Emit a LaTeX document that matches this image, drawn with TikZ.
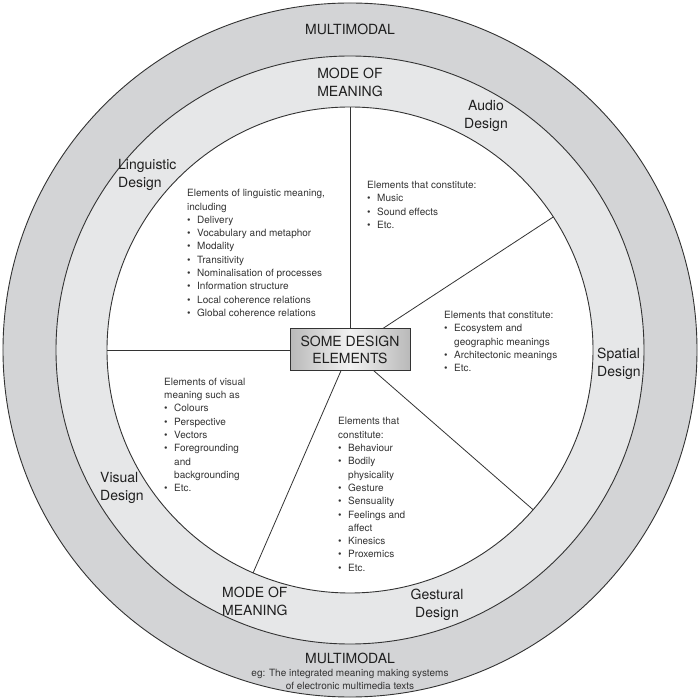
\documentclass[tikz,border=0pt]{standalone}
\usepackage{fontspec}
\setmainfont{TeX Gyre Heros}
\definecolor{outerring}{HTML}{D3D4D6}
\definecolor{midring}{HTML}{E6E7E8}
\definecolor{linec}{HTML}{333333}
\newcommand{\bul}{\makebox[10pt][l]{\textbullet}}
\newcommand{\ind}{\hspace*{10pt}}
\tikzset{
  ring/.style={draw=linec, line width=0.9pt},
  lbl/.style={font=\fontsize{14}{18}\selectfont, inner sep=0pt, text=black!88},
  body/.style={font=\fontsize{10}{13.3}\selectfont, inner sep=0pt, align=left, text=black!80, anchor=west},
  spoke/.style={draw=linec, line width=0.8pt},
  centrebox/.style={draw=linec, line width=1pt, left color=gray!55, right color=gray!55, middle color=gray!10,
    minimum width=120pt, minimum height=42pt, align=center, font=\fontsize{14}{17}\selectfont, inner sep=0pt, text=black!88}
}
\begin{document}
\begin{tikzpicture}[x=1pt,y=1pt]
\useasboundingbox (-350,-350) rectangle (350,350);
\coordinate (c) at (0,0);
\draw[ring, fill=outerring] (c) circle (347);
\draw[ring, fill=midring] (c) circle (294);
\draw[ring, fill=white] (c) circle (243);
\coordinate (s1) at (90:243);
\coordinate (s2) at (180:243);
\coordinate (s3) at (33.2:243);
\coordinate (s4) at (-41.1:243);
\coordinate (s5) at (-113.5:243);
\foreach \s in {s1,s2,s3,s4,s5} \draw[spoke] (c) -- (\s);
\node[centrebox] (box) at (c) {SOME DESIGN\\ELEMENTS};

% ring labels
\node[lbl] (mmtop) at (0,321) {MULTIMODAL};
\node[lbl, align=center] (modetop) at (0,268) {MODE OF\\MEANING};
\node[lbl, align=center] (audio) at (136,234) {Audio\\Design};
\node[lbl, align=left, anchor=west] (ling) at (-232,175) {Linguistic\\Design};
\node[lbl, align=left, anchor=west] (spatial) at (247,-14) {Spatial\\Design};
\node[lbl, align=left, anchor=west] (visual) at (-250,-138) {Visual\\Design};
\node[lbl, align=left, anchor=west] (modebot) at (-128,-251) {MODE OF\\MEANING};
\node[lbl, align=center] (gest) at (87,-255) {Gestural\\Design};
\node[lbl] (mmbot) at (0,-308) {MULTIMODAL};
\node[font=\fontsize{10}{13}\selectfont, inner sep=0pt, align=center, text=black!80] (cap) at (0,-329.5)
  {eg: The integrated meaning making systems\\of electronic multimedia texts};

% body texts
\node[body] (lingtext) at (-163,97) {Elements of linguistic meaning,\\including\\
  \bul Delivery\\ \bul Vocabulary and metaphor\\ \bul Modality\\ \bul Transitivity\\
  \bul Nominalisation of processes\\ \bul Information structure\\ \bul Local coherence relations\\
  \bul Global coherence relations};
\node[body] (audiotext) at (17,145) {Elements that constitute:\\ \bul Music\\ \bul Sound effects\\ \bul Etc.};
\node[body] (spatialtext) at (94,8.5) {Elements that constitute:\\ \bul Ecosystem and\\ \ind geographic meanings\\
  \bul Architectonic meanings\\ \bul Etc.};
\node[body] (visualtext) at (-186,-85) {Elements of visual\\meaning such as\\ \bul Colours\\ \bul Perspective\\
  \bul Vectors\\ \bul Foregrounding\\ \ind and\\ \ind backgrounding\\ \bul Etc.};
\node[body] (gesttext) at (-12,-144.5) {Elements that\\constitute:\\ \bul Behaviour\\ \bul Bodily\\ \ind physicality\\
  \bul Gesture\\ \bul Sensuality\\ \bul Feelings and\\ \ind affect\\ \bul Kinesics\\ \bul Proxemics\\ \bul Etc.};
\end{tikzpicture}
\end{document}
